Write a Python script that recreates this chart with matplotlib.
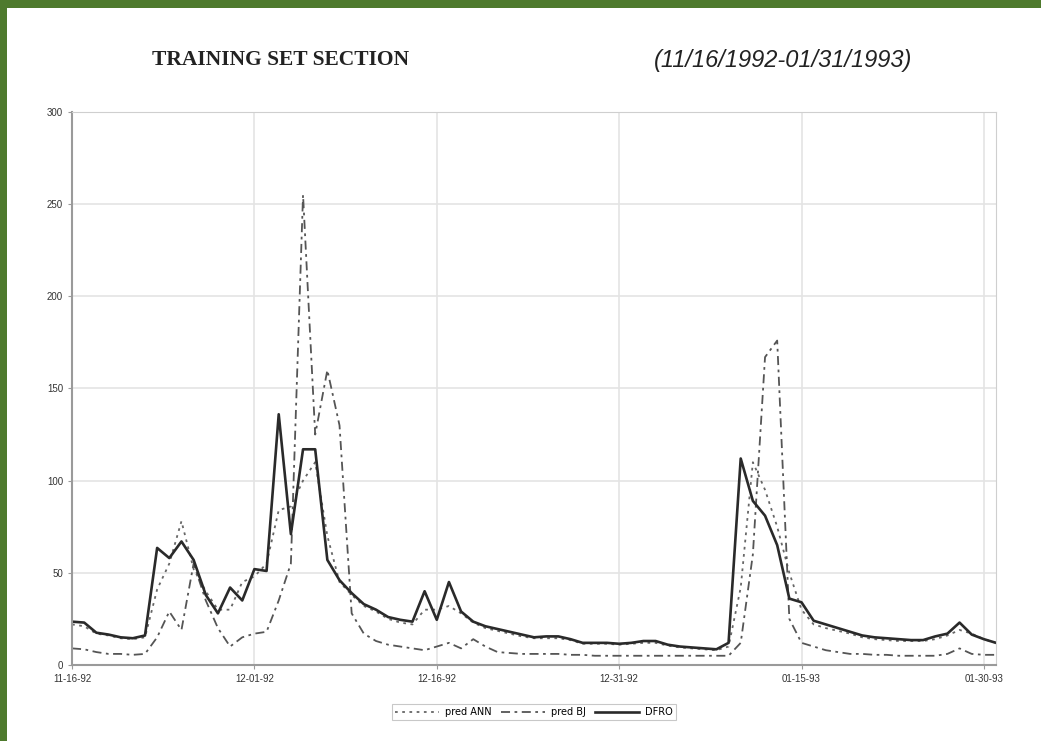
import matplotlib
matplotlib.use("Agg")
import matplotlib.pyplot as plt
import matplotlib.dates as mdates
import pandas as pd
from matplotlib.patches import Rectangle

# Daily series, 11/16/1992 .. 01/31/1993
dates = pd.date_range("1992-11-16", "1993-01-31", freq="D")

dfro = [23.5, 23, 17.5, 16.5, 15, 14.5, 16, 63.5, 58, 67,
        57, 38, 28, 42, 35, 52, 51, 136, 71, 117,
        117, 57, 46, 39, 33, 30, 26, 24.5, 23.5, 40,
        24.5, 45, 29, 23.5, 21, 19.5, 18, 16.5, 15, 15.5,
        15.5, 14, 12, 12, 12, 11.5, 12, 13, 13, 11,
        10, 9.5, 9, 8.5, 12, 112, 89, 81, 65, 36,
        34, 24, 22, 20, 18, 16, 15, 14.5, 14, 13.5,
        13.5, 15.5, 17, 23, 16.5, 14, 12]

pred_ann = [22, 21, 17, 16, 14.5, 14, 15, 41, 55, 78,
            52, 40, 30, 30, 45, 48, 55, 84, 86, 100,
            110, 70, 45, 38, 32, 29, 25, 23, 22, 30,
            30, 32, 28, 23, 20, 18.5, 17, 15.5, 14.5, 14.5,
            14.5, 13.5, 11.5, 11.5, 11.5, 11, 11.5, 12, 12, 10.5,
            9.5, 9, 8.5, 8, 10, 42, 110, 95, 75, 50,
            30, 22, 20, 18.5, 17, 15, 14, 13.5, 13, 13,
            13, 14, 16, 19, 17, 14, 12]

pred_bj = [9, 8.5, 7, 6, 6, 5.5, 6, 15, 29, 19,
           55, 35, 20, 10, 15, 17, 18, 35, 55, 255,
           125, 160, 130, 28, 17, 13, 11, 10, 9, 8,
           10, 12, 9, 14, 10, 7, 6.5, 6, 6, 6,
           6, 5.5, 5.5, 5, 5, 5, 5, 5, 5, 5,
           5, 5, 5, 5, 5, 12, 60, 167, 176, 25,
           12, 10, 8, 7, 6, 6, 5.5, 5.5, 5, 5,
           5, 5, 6, 9, 6, 5.5, 5.5]

y_ticks = [0, 50, 100, 150, 200, 250, 300]
x_ticks = pd.to_datetime(["1992-11-16", "1992-12-01", "1992-12-16",
                          "1992-12-31", "1993-01-15", "1993-01-30"])

W, H = 1041, 741
fig = plt.figure(figsize=(W / 100, H / 100), dpi=100)
fig.patch.set_facecolor("white")

# dark green edge along the top and left of the page
green = "#4e7a2d"
fig.patches.append(Rectangle((0, 1 - 8 / H), 1, 8 / H,
                             transform=fig.transFigure, facecolor=green,
                             edgecolor="none", zorder=0))
fig.patches.append(Rectangle((0, 0), 7 / W, 1,
                             transform=fig.transFigure, facecolor=green,
                             edgecolor="none", zorder=0))

ax = fig.add_axes([0.0692, 0.1026, 0.8876, 0.7463])
ax.plot(dates, pred_ann, color="#666666", lw=1.3, ls=(0, (1.5, 2.5)),
        label="pred ANN")
ax.plot(dates, pred_bj, color="#555555", lw=1.3, ls=(0, (5, 2.5, 1.5, 2.5)),
        label="pred BJ")
ax.plot(dates, dfro, color="#2a2a2a", lw=1.9, label="DFRO")

ax.set_xlim(dates[0], dates[-1])
ax.set_ylim(0, 300)
ax.set_yticks(y_ticks)
ax.set_xticks(x_ticks)
ax.xaxis.set_major_formatter(mdates.DateFormatter("%m-%d-%y"))
ax.grid(True, color="#e4e4e4", lw=1.2)
ax.set_axisbelow(True)
for side in ("top", "right"):
    ax.spines[side].set_color("#cfcfcf")
ax.spines["left"].set_color("#9a9a9a")
ax.spines["bottom"].set_color("#9a9a9a")
ax.spines["left"].set_linewidth(1.5)
ax.spines["bottom"].set_linewidth(1.5)
ax.tick_params(axis="both", length=3, color="#9a9a9a", labelsize=7,
               labelcolor="#333333")
for lab in ax.get_xticklabels() + ax.get_yticklabels():
    lab.set_family("Liberation Sans")

fig.text(0.146, 0.919, "TRAINING SET SECTION", family="Liberation Serif",
         weight="bold", fontsize=15.5, color="#222222", va="center")
fig.text(0.876, 0.919, "(11/16/1992-01/31/1993)", family="Liberation Sans",
         style="italic", fontsize=17, color="#222222", va="center",
         ha="right")

leg = fig.legend(loc="center", bbox_to_anchor=(0.513, 0.039), ncol=3,
                 frameon=True, fontsize=7, handlelength=4.5,
                 columnspacing=1.0, handletextpad=0.6, borderpad=0.3,
                 fancybox=False, edgecolor="#bbbbbb")
leg.get_frame().set_linewidth(0.8)

fig.savefig("out.png", dpi=100, facecolor="white")
